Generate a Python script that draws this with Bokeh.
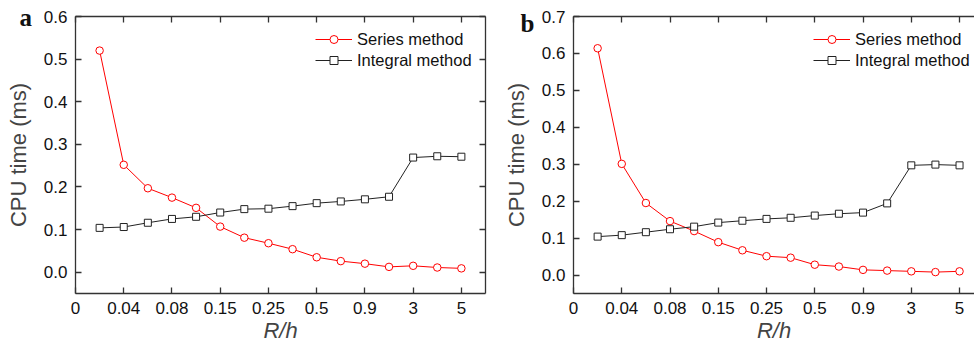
from bokeh.plotting import figure
from bokeh.layouts import row
from bokeh.models import (LinearAxis, FixedTicker, Range1d, Legend, LegendItem,
                          PrintfTickFormatter)
from bokeh.embed import file_html
from bokeh.resources import INLINE

# ---- data ----
positions = list(range(1, 17))
x_tick_pos = [0, 2, 4, 6, 8, 10, 12, 14, 16]
x_tick_labels = ["0", "0.04", "0.08", "0.15", "0.25", "0.5", "0.9", "3", "5"]

series_a = [0.520, 0.252, 0.197, 0.175, 0.151, 0.107, 0.081, 0.068,
            0.054, 0.035, 0.026, 0.020, 0.0125, 0.015, 0.011, 0.009]
integral_a = [0.104, 0.106, 0.116, 0.125, 0.130, 0.140, 0.148, 0.149,
              0.155, 0.162, 0.166, 0.171, 0.177, 0.269, 0.272, 0.271]

series_b = [0.614, 0.301, 0.195, 0.146, 0.119, 0.089, 0.067, 0.051,
            0.047, 0.028, 0.023, 0.014, 0.012, 0.010, 0.008, 0.010]
integral_b = [0.104, 0.108, 0.116, 0.124, 0.131, 0.142, 0.147, 0.152,
              0.155, 0.161, 0.166, 0.169, 0.194, 0.297, 0.299, 0.297]

yticks_a = [0.0, 0.1, 0.2, 0.3, 0.4, 0.5, 0.6]
yticks_b = [0.0, 0.1, 0.2, 0.3, 0.4, 0.5, 0.6, 0.7]

FONT = "Liberation Sans"
AXC = "#333333"


def style_axis(ax, labels=True):
    ax.axis_line_color = AXC
    ax.axis_line_width = 1.3
    ax.major_tick_line_color = AXC
    ax.major_tick_line_width = 1.3
    ax.major_tick_in = 6
    ax.major_tick_out = 0
    ax.minor_tick_in = 0
    ax.minor_tick_out = 0
    ax.major_label_text_font = FONT
    if labels:
        ax.major_label_text_color = "#111111"
        ax.major_label_text_font_size = "17px"
        ax.major_label_standoff = 8
    else:
        ax.major_label_text_color = None
        ax.major_label_text_font_size = "1px"
        ax.major_label_standoff = 0


def make_panel(series, integral, ymax, yticks, fw, bl, br, xend, right_axis,
               letter, letter_off, letter_standoff):
    p = figure(frame_width=fw, frame_height=277, min_border_left=bl,
               min_border_right=br, min_border_top=16, min_border_bottom=51,
               x_range=Range1d(0, xend), y_range=Range1d(-0.05, ymax),
               output_backend="svg", toolbar_location=None,
               background_fill_color="white", border_fill_color="white")
    p.outline_line_color = None
    p.xgrid.visible = False
    p.ygrid.visible = False

    over = {pos: lab for pos, lab in zip(x_tick_pos, x_tick_labels)}

    xa = p.xaxis[0]
    xa.ticker = FixedTicker(ticks=x_tick_pos)
    xa.major_label_overrides = over
    style_axis(xa)
    xa.axis_label = "R/h"
    xa.axis_label_text_font = FONT
    xa.axis_label_text_font_style = "italic"
    xa.axis_label_text_font_size = "22px"
    xa.axis_label_standoff = 1

    ya = p.yaxis[0]
    ya.ticker = FixedTicker(ticks=yticks)
    ya.formatter = PrintfTickFormatter(format="%.1f")
    style_axis(ya)
    ya.axis_label = "CPU time (ms)"
    ya.axis_label_text_font = FONT
    ya.axis_label_text_font_style = "normal"
    ya.axis_label_text_font_size = "22px"
    ya.axis_label_standoff = 10

    top = LinearAxis(ticker=FixedTicker(ticks=x_tick_pos))
    style_axis(top, labels=False)
    p.add_layout(top, "above")
    if right_axis:
        rt = LinearAxis(ticker=FixedTicker(ticks=yticks))
        style_axis(rt, labels=False)
        p.add_layout(rt, "right")

    lr = p.line(positions, series, line_color="#ff0000", line_width=1)
    sr = p.scatter(positions, series, marker="circle", size=7.5,
                   fill_color="white", line_color="#ff0000", line_width=1)
    li = p.line(positions, integral, line_color="#222222", line_width=1)
    si = p.scatter(positions, integral, marker="square", size=7,
                   fill_color="white", line_color="#222222", line_width=1)

    leg = Legend(items=[LegendItem(label="Series method", renderers=[lr, sr]),
                        LegendItem(label="Integral method", renderers=[li, si])],
                 location=(240, 223))
    leg.border_line_color = None
    leg.background_fill_alpha = 0
    leg.padding = 0
    leg.margin = 0
    leg.spacing = 1
    leg.glyph_width = 37
    leg.glyph_height = 20
    leg.label_height = 20
    leg.label_standoff = 5
    leg.label_text_font = FONT
    leg.label_text_font_size = "16.5px"
    leg.label_text_color = "#111111"
    p.add_layout(leg, "center")

    # panel letter as the plot title, pulled down beside the frame
    p.title.text = letter
    p.title.align = "left"
    p.title.offset = letter_off
    p.title.standoff = letter_standoff
    p.title.vertical_align = "bottom"
    p.title.text_font = "Liberation Serif"
    p.title.text_font_style = "bold"
    p.title.text_font_size = "25px"
    p.title.text_color = "#111111"
    return p


pa = make_panel(series_a, integral_a, 0.6, yticks_a, 410, 75, 5, 17.0, True,
                "a", -56, -29)
pb = make_panel(series_b, integral_b, 0.7, yticks_b, 401, 83, 0, 16.62, False,
                "b", -53, -41)

layout = row(pa, pb)
open("out.html", "w").write(file_html(layout, INLINE))
